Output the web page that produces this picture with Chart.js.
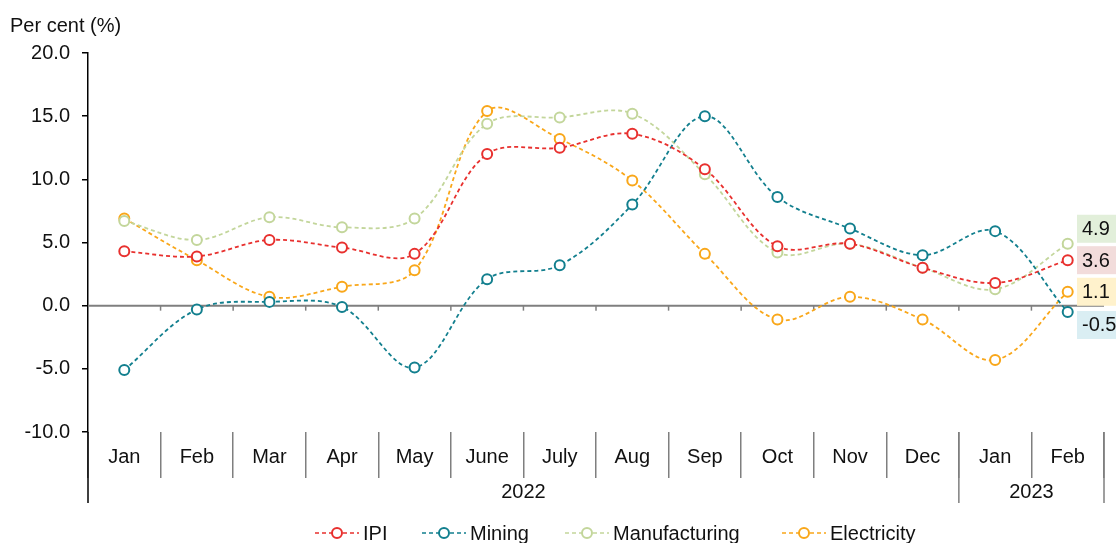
<!DOCTYPE html>
<html>
<head>
<meta charset="utf-8">
<title>Industrial production index growth</title>
<script src="https://cdn.jsdelivr.net/npm/chart.js@4.4.0/dist/chart.umd.min.js"></script>
<style>
  html, body { margin: 0; background: #fff; }
  canvas { display: block; }
</style>
</head>
<body>
<canvas id="ipiChart" width="1116" height="543"></canvas>
<script>
// Year-on-year growth, Jan 2022 - Feb 2023
const months = ['Jan','Feb','Mar','Apr','May','June','July','Aug','Sep','Oct','Nov','Dec','Jan','Feb'];
const years = ['2022', '2023'];
const monthsPerYear = [12, 2];

const ipi           = [4.3, 3.9, 5.2, 4.6, 4.1, 12.0, 12.5, 13.6, 10.8, 4.7, 4.9, 3.0, 1.8, 3.6];
const mining        = [-5.1, -0.3, 0.3, -0.1, -4.9, 2.1, 3.2, 8.0, 15.0, 8.6, 6.1, 4.0, 5.9, -0.5];
const manufacturing = [6.7, 5.2, 7.0, 6.2, 6.9, 14.4, 14.9, 15.2, 10.4, 4.2, 4.9, 3.0, 1.3, 4.9];
const electricity   = [6.9, 3.6, 0.7, 1.5, 2.8, 15.4, 13.2, 9.9, 4.1, -1.1, 0.7, -1.1, -4.3, 1.1];

const yTicks = [-10, -5, 0, 5, 10, 15, 20];

const FONT = "'Liberation Sans', Arial, sans-serif";
const TEXT = '#111';

function series(label, data, color, tagColor, tagShift) {
  return {
    label, data,
    borderColor: color,
    borderWidth: 1.8,
    borderDash: [4, 3],
    pointStyle: 'circle',
    pointRadius: 5,
    pointBorderWidth: 2,
    pointBackgroundColor: '#fff',
    pointBorderColor: color,
    tension: 0.35,
    tagColor, tagShift
  };
}

// zero line with small ticks at the month boundaries
const zeroLine = {
  id: 'zeroLine',
  beforeDatasetsDraw(chart) {
    const { ctx, chartArea: a, scales: { x, y } } = chart;
    const y0 = y.getPixelForValue(0);
    const half = (x.getPixelForValue(1) - x.getPixelForValue(0)) / 2;
    ctx.save();
    ctx.strokeStyle = '#7f7f7f';
    ctx.lineWidth = 2;
    ctx.beginPath(); ctx.moveTo(a.left, y0); ctx.lineTo(a.right, y0); ctx.stroke();
    ctx.lineWidth = 1.5;
    for (let i = 1; i < months.length; i++) {
      const px = x.getPixelForValue(i) - half;
      ctx.beginPath(); ctx.moveTo(px, y0); ctx.lineTo(px, y0 + 5); ctx.stroke();
    }
    ctx.restore();
  }
};

// year row under the month labels
const yearRow = {
  id: 'yearRow',
  afterDraw(chart) {
    const { ctx, chartArea: a, scales: { x } } = chart;
    const half = (x.getPixelForValue(1) - x.getPixelForValue(0)) / 2;
    const bottom = 503;
    ctx.save();
    ctx.lineWidth = 1.5;
    ctx.strokeStyle = '#000';
    ctx.beginPath(); ctx.moveTo(a.left, a.bottom); ctx.lineTo(a.left, bottom); ctx.stroke();
    ctx.font = '20px ' + FONT;
    ctx.fillStyle = TEXT;
    ctx.textAlign = 'center';
    ctx.textBaseline = 'middle';
    let start = 0;
    years.forEach((yr, k) => {
      const end = start + monthsPerYear[k] - 1;
      const left = x.getPixelForValue(start) - half;
      const right = x.getPixelForValue(end) + half;
      ctx.fillText(yr, (left + right) / 2, 492);
      ctx.strokeStyle = '#7f7f7f';
      ctx.beginPath(); ctx.moveTo(right, a.bottom); ctx.lineTo(right, bottom); ctx.stroke();
      start = end + 1;
    });
    ctx.restore();
  }
};

// coloured value tags for the latest month
const lastTags = {
  id: 'lastTags',
  afterDatasetsDraw(chart) {
    const { ctx, scales: { y } } = chart;
    ctx.save();
    ctx.font = '20px ' + FONT;
    ctx.textBaseline = 'middle';
    ctx.textAlign = 'left';
    chart.data.datasets.forEach(ds => {
      const v = ds.data[ds.data.length - 1];
      const cy = y.getPixelForValue(v) + ds.tagShift;
      ctx.fillStyle = ds.tagColor;
      ctx.fillRect(1077, cy - 14, 50, 28);
      ctx.fillStyle = TEXT;
      ctx.fillText(v.toFixed(1), 1082, cy + 1);
    });
    ctx.restore();
  }
};

// legend: dashed line with hollow marker, then label
const legendSlots = [315, 422, 565, 782];
const lineLegend = {
  id: 'lineLegend',
  afterDraw(chart) {
    const { ctx } = chart;
    const cy = 533;
    ctx.save();
    ctx.font = '20px ' + FONT;
    ctx.textBaseline = 'middle';
    ctx.textAlign = 'left';
    chart.data.datasets.forEach((ds, i) => {
      const px = legendSlots[i];
      ctx.strokeStyle = ds.borderColor;
      ctx.lineWidth = 1.5;
      ctx.setLineDash([4, 3]);
      ctx.beginPath(); ctx.moveTo(px, cy); ctx.lineTo(px + 44, cy); ctx.stroke();
      ctx.setLineDash([]);
      ctx.lineWidth = 2;
      ctx.fillStyle = '#fff';
      ctx.beginPath(); ctx.arc(px + 22, cy, 5, 0, Math.PI * 2); ctx.fill(); ctx.stroke();
      ctx.fillStyle = TEXT;
      ctx.fillText(ds.label, px + 48, cy + 1);
    });
    ctx.restore();
  }
};

new Chart(document.getElementById('ipiChart'), {
  type: 'line',
  data: {
    labels: months,
    datasets: [
      series('IPI', ipi, '#e8302e', '#f2dcdb', 0),
      series('Mining', mining, '#127f8e', '#daeef3', 13),
      series('Manufacturing', manufacturing, '#c3d69b', '#e2efda', -15),
      series('Electricity', electricity, '#f9a71a', '#fff2cc', 0)
    ]
  },
  options: {
    responsive: false,
    animation: false,
    layout: { padding: { left: 10, right: 12, top: 0, bottom: 0 } },
    plugins: {
      legend: { display: false },
      tooltip: { enabled: false },
      title: {
        display: true,
        text: 'Per cent (%)',
        align: 'start',
        color: TEXT,
        font: { family: FONT, size: 20, weight: 'normal' },
        padding: { top: 14, bottom: 15 }
      }
    },
    scales: {
      x: {
        offset: true,
        afterFit(s) { s.height = 111; },
        grid: {
          offset: true,
          drawOnChartArea: false,
          tickLength: 46,
          color: '#7f7f7f',
          lineWidth: 1.5
        },
        border: { display: false },
        ticks: {
          padding: -33,
          color: TEXT,
          font: { family: FONT, size: 20 },
          maxRotation: 0,
          autoSkip: false
        }
      },
      y: {
        min: yTicks[0],
        max: yTicks[yTicks.length - 1],
        afterFit(s) { s.width = 78; },
        afterBuildTicks(s) { s.ticks = yTicks.map(v => ({ value: v })); },
        grid: { drawOnChartArea: false, tickLength: 6, color: '#000', lineWidth: 1.5 },
        border: { display: true, color: '#000', width: 1.5 },
        ticks: {
          padding: 12,
          color: TEXT,
          font: { family: FONT, size: 20 },
          callback: v => v.toFixed(1)
        }
      }
    }
  },
  plugins: [zeroLine, yearRow, lastTags, lineLegend]
});
</script>
</body>
</html>
